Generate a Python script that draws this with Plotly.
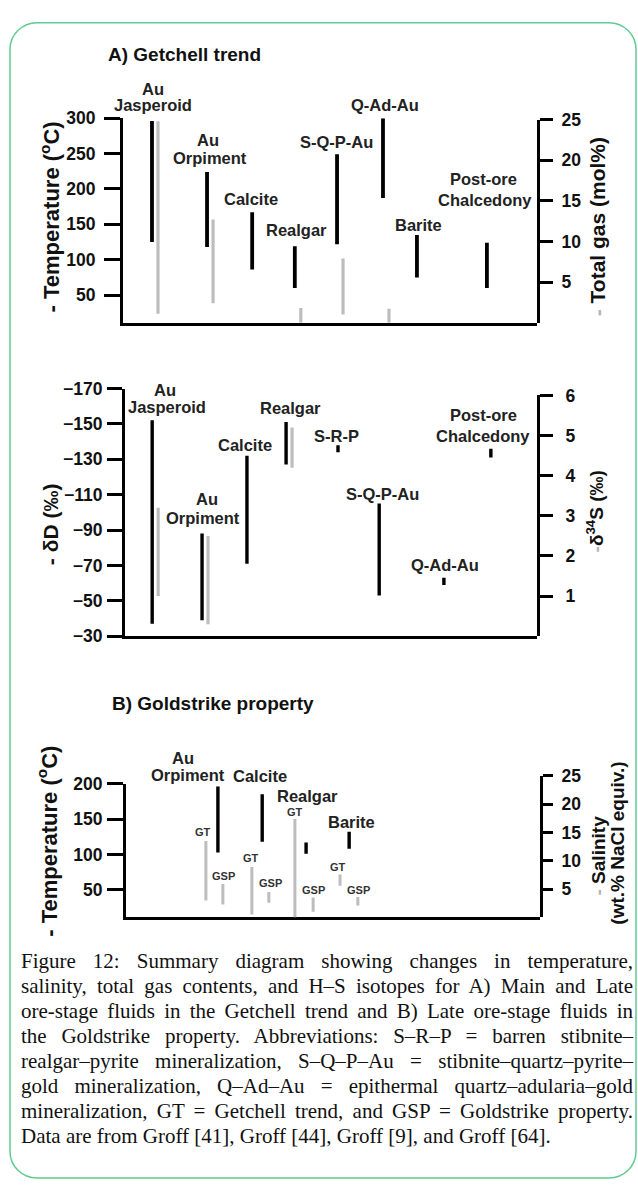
import plotly.graph_objects as go

W, H = 638, 1185

# ---------------- A) Getchell trend: temperature and total gas ----------------
a_stages = ["Au Jasperoid", "Au Orpiment", "Calcite", "Realgar",
            "S-Q-P-Au", "Q-Ad-Au", "Barite", "Post-ore Chalcedony"]
a_temp_lo = [125, 118, 86, 60, 122, 187, 75, 60]
a_temp_hi = [296, 224, 167, 119, 249, 300, 135, 124]
a_gas_stages = ["Au Jasperoid", "Au Orpiment", "Realgar", "S-Q-P-Au", "Q-Ad-Au"]
a_gas_lo = [1.1, 2.4, 0.0, 1.0, 0.0]
a_gas_hi = [24.8, 12.7, 1.8, 7.9, 1.7]
a_temp_ticks = [50, 100, 150, 200, 250, 300]
a_gas_ticks = [5, 10, 15, 20, 25]

# ---------------- A) Getchell trend: H and S isotopes ----------------
b_stages = ["Au Jasperoid", "Au Orpiment", "Calcite", "Realgar",
            "S-R-P", "S-Q-P-Au", "Q-Ad-Au", "Post-ore Chalcedony"]
b_dD_lo = [-152, -88, -132, -151, -138, -105, -63, -136]
b_dD_hi = [-37, -39, -71, -127, -134, -53, -59, -131]
b_s34_stages = ["Au Jasperoid", "Au Orpiment", "Realgar"]
b_s34_lo = [1.0, 0.3, 4.2]
b_s34_hi = [3.2, 2.5, 5.2]
b_dD_ticks = [-170, -150, -130, -110, -90, -70, -50, -30]
b_s34_ticks = [1, 2, 3, 4, 5, 6]

# ---------------- B) Goldstrike property ----------------
c_stages = ["Au Orpiment", "Calcite", "Realgar", "Barite"]
c_temp_lo = [103, 118, 101, 108]
c_temp_hi = [196, 185, 117, 132]
c_sal_gt_lo = [3.0, 0.5, 0.0, 5.6]
c_sal_gt_hi = [13.5, 8.9, 17.4, 7.6]
c_sal_gsp_lo = [2.3, 2.6, 1.0, 2.1]
c_sal_gsp_hi = [5.9, 4.5, 3.5, 3.6]
c_temp_ticks = [50, 100, 150, 200]
c_sal_ticks = [5, 10, 15, 20, 25]

caption_lines = [
    "Figure 12: Summary diagram showing changes in temperature,",
    "salinity, total gas contents, and H\u2013S isotopes for A) Main and Late",
    "ore-stage fluids in the Getchell trend and B) Late ore-stage fluids in",
    "the Goldstrike property. Abbreviations: S\u2013R\u2013P = barren stibnite\u2013",
    "realgar\u2013pyrite mineralization, S\u2013Q\u2013P\u2013Au = stibnite\u2013quartz\u2013pyrite\u2013",
    "gold mineralization, Q\u2013Ad\u2013Au = epithermal quartz\u2013adularia\u2013gold",
    "mineralization, GT = Getchell trend, and GSP = Goldstrike property.",
    "Data are from Groff [41], Groff [44], Groff [9], and Groff [64].",
]

# ---------------- layout constants ----------------
SANS = "Liberation Sans, Arial, sans-serif"
SERIF = "Liberation Serif, Times New Roman, serif"
BLACK = "#000000"
GRAY = "#bdbdbd"
TXT = "#222222"

# horizontal slot of each stage inside its panel (fraction of axis width)
A_POS = {"Au Jasperoid": 0.070, "Au Orpiment": 0.203, "Calcite": 0.312,
         "Realgar": 0.415, "S-Q-P-Au": 0.517, "Q-Ad-Au": 0.628,
         "Barite": 0.710, "Post-ore Chalcedony": 0.879}
B_POS = {"Au Jasperoid": 0.066, "Au Orpiment": 0.187, "Calcite": 0.296,
         "Realgar": 0.391, "S-R-P": 0.517, "S-Q-P-Au": 0.617,
         "Q-Ad-Au": 0.774, "Post-ore Chalcedony": 0.888}
C_POS = {"Au Orpiment": 0.222, "Calcite": 0.329, "Realgar": 0.435, "Barite": 0.539}
C_GT_POS = [0.193, 0.304, 0.408, 0.517]
C_GSP_POS = [0.234, 0.345, 0.452, 0.560]
PAIR_OFFSET = 0.0145


def px(x):
    return x / W


def py(y):
    return 1 - y / H


def segments(xs, lo, hi):
    X, Y = [], []
    for x, a, b in zip(xs, lo, hi):
        X += [x, x, None]
        Y += [a, b, None]
    return X, Y


fig = go.Figure()


def add_bars(xs, lo, hi, color, width, xa, ya):
    X, Y = segments(xs, lo, hi)
    fig.add_trace(go.Scatter(x=X, y=Y, mode="lines", xaxis=xa, yaxis=ya,
                             line=dict(color=color, width=width),
                             hoverinfo="skip", showlegend=False))


# panel A, temperature (black) and gas (gray)
add_bars([A_POS[s] for s in a_stages], a_temp_lo, a_temp_hi, BLACK, 3.8, "x", "y")
add_bars([A_POS[s] + PAIR_OFFSET for s in a_gas_stages], a_gas_lo, a_gas_hi, GRAY, 3.2, "x2", "y2")
# panel A, dD (black) and d34S (gray)
add_bars([B_POS[s] for s in b_stages], b_dD_lo, b_dD_hi, BLACK, 3.4, "x3", "y3")
add_bars([B_POS[s] + PAIR_OFFSET for s in b_s34_stages], b_s34_lo, b_s34_hi, GRAY, 3.2, "x4", "y4")
# panel B, temperature (black) and salinity (gray)
add_bars([C_POS[s] for s in c_stages], c_temp_lo, c_temp_hi, BLACK, 3.4, "x5", "y5")
add_bars(C_GT_POS, c_sal_gt_lo, c_sal_gt_hi, GRAY, 3.0, "x6", "y6")
add_bars(C_GSP_POS, c_sal_gsp_lo, c_sal_gsp_hi, GRAY, 3.0, "x6", "y6")

tickfont = dict(family=SANS, size=17.5, color="#111111", weight="bold")


def xaxis_cfg(x0, x1, anchor, visible=True):
    d = dict(domain=[px(x0), px(x1)], range=[0, 1], anchor=anchor,
             showgrid=False, zeroline=False, showticklabels=False, ticks="",
             fixedrange=True)
    if visible:
        d.update(showline=True, linewidth=3, linecolor=BLACK)
    else:
        d.update(visible=False)
    return d


def yaxis_cfg(y_bottom, y_top, rng, ticks, anchor, side, ticklen, standoff):
    return dict(domain=[py(y_bottom), py(y_top)], range=list(rng),
                anchor=anchor, side=side, showgrid=False, zeroline=False,
                showline=True, linewidth=3, linecolor=BLACK,
                ticks="outside", ticklen=ticklen, tickwidth=3, tickcolor=BLACK,
                tickvals=ticks, ticktext=[("\u2212" + str(-t)) if t < 0 else str(t) for t in ticks],
                tickfont=tickfont, ticklabelstandoff=standoff, fixedrange=True)


layout = dict(
    width=W, height=H, margin=dict(l=0, r=0, t=0, b=0),
    paper_bgcolor="white", plot_bgcolor="rgba(0,0,0,0)", showlegend=False,
    xaxis=xaxis_cfg(123, 537, "y"),
    xaxis2=xaxis_cfg(123, 537, "y2", visible=False),
    yaxis=yaxis_cfg(318, 110, (11.1, 300), a_temp_ticks, "x", "left", 16, 5),
    yaxis2=yaxis_cfg(318, 111.5, (0, 25), a_gas_ticks, "x2", "right", 13, 5),
    xaxis3=xaxis_cfg(125, 537, "y3"),
    xaxis4=xaxis_cfg(125, 537, "y4", visible=False),
    # the dD axis runs from -30 at the bottom to -170 at the top
    yaxis3=yaxis_cfg(637, 385, (-30, -170), b_dD_ticks, "x3", "left", 15, 1),
    yaxis4=yaxis_cfg(637, 392, (0, 6), b_s34_ticks, "x4", "right", 13, 9),
    xaxis5=xaxis_cfg(126, 540, "y5"),
    xaxis6=xaxis_cfg(126, 540, "y6", visible=False),
    yaxis5=yaxis_cfg(923, 787, (11.1, 200), c_temp_ticks, "x5", "left", 16, 1),
    yaxis6=yaxis_cfg(923, 779, (0, 25), c_sal_ticks, "x6", "right", 10, 5),
)

annotations = []


def text(t, cx, cy, size=16.5, color=TXT, family=SANS, weight="bold", angle=0,
         xanchor="center"):
    annotations.append(dict(text=t, x=px(cx), y=py(cy), xref="paper", yref="paper",
                            showarrow=False, xanchor=xanchor, yanchor="middle",
                            textangle=angle,
                            font=dict(family=family, size=size, color=color, weight=weight)))


# panel titles
text("A) Getchell trend", 106, 45, size=19, color="#111111", xanchor="left")
text("B) Goldstrike property", 110, 705, size=19, color="#111111", xanchor="left")

# stage labels, panel A temperature
for t, cx, cy in [("Au", 153, 80), ("Jasperoid", 153, 97), ("Au", 208, 132),
                  ("Orpiment", 210, 151), ("Calcite", 251, 192), ("Realgar", 296, 224),
                  ("S-Q-P-Au", 336, 134), ("Q-Ad-Au", 385, 97), ("Barite", 418, 219),
                  ("Post-ore", 483, 172), ("Chalcedony", 485, 193)]:
    text(t, cx, cy)

# stage labels, isotopes
for t, cx, cy in [("Au", 165, 387), ("Jasperoid", 167, 404), ("Realgar", 290, 405),
                  ("Calcite", 245, 442), ("S-R-P", 336, 433), ("Au", 207, 497),
                  ("Orpiment", 203, 517), ("S-Q-P-Au", 382, 492), ("Q-Ad-Au", 445, 565),
                  ("Post-ore", 483, 412), ("Chalcedony", 483, 433)]:
    text(t, cx, cy)

# stage labels, Goldstrike
for t, cx, cy in [("Au", 183, 761), ("Orpiment", 188, 778), ("Calcite", 260, 779),
                  ("Realgar", 307, 800), ("Barite", 351, 826)]:
    text(t, cx, cy)
for t, cx, cy in [("GT", 203, 836), ("GT", 251, 863), ("GT", 295, 816), ("GT", 338, 872),
                  ("GSP", 223, 881), ("GSP", 270, 888), ("GSP", 313, 895), ("GSP", 358, 895)]:
    text(t, cx, cy, size=11, color="#333333")

# axis titles
DASH_GRAY = "<span style='color:#b5b5b5'>-</span>"
text("- Temperature (<sup>o</sup>C)", 50, 211, size=22, color="#111111", angle=-90)
text(DASH_GRAY + " Total gas (mol%)", 597, 221, size=21, color="#111111", angle=-90)
text("- \u03b4D (\u2030)", 50, 523, size=21, color="#111111", angle=-90)
text(DASH_GRAY + "\u03b4<sup>34</sup>S (\u2030)", 595, 510, size=19, color="#111111", angle=-90)
text("- Temperature (<sup>o</sup>C)", 47, 846, size=22, color="#111111", angle=-90)
text(DASH_GRAY + " Salinity", 598, 860, size=19, color="#111111", angle=-90)
text("(wt.% NaCl equiv.)", 618, 848, size=19, color="#111111", angle=-90)

# caption
justify_ids = []
for i, line in enumerate(caption_lines):
    if i < len(caption_lines) - 1:
        justify_ids.append(len(annotations))
    annotations.append(dict(text=line, x=px(19), y=py(967 + i * 25.45), xref="paper",
                            yref="paper", showarrow=False, xanchor="left", yanchor="middle",
                            align="left",
                            font=dict(family=SERIF, size=21, color="#111111")))

layout["annotations"] = annotations


# green rounded frame around the figure
def frame_path(x0, y0, x1, y1, r):
    k = 0.5523 * r
    pts = []
    pts.append("M %f,%f" % (px(x0), py(y0 + r)))
    pts.append("C %f,%f %f,%f %f,%f" % (px(x0), py(y0 + r - k), px(x0 + r - k), py(y0), px(x0 + r), py(y0)))
    pts.append("L %f,%f" % (px(x1 - r), py(y0)))
    pts.append("C %f,%f %f,%f %f,%f" % (px(x1 - r + k), py(y0), px(x1), py(y0 + r - k), px(x1), py(y0 + r)))
    pts.append("L %f,%f" % (px(x1), py(y1 - r)))
    pts.append("C %f,%f %f,%f %f,%f" % (px(x1), py(y1 - r + k), px(x1 - r + k), py(y1), px(x1 - r), py(y1)))
    pts.append("L %f,%f" % (px(x0 + r), py(y1)))
    pts.append("C %f,%f %f,%f %f,%f" % (px(x0 + r - k), py(y1), px(x0), py(y1 - r + k), px(x0), py(y1 - r)))
    pts.append("Z")
    return " ".join(pts)


layout["shapes"] = [dict(type="path", xref="paper", yref="paper",
                         path=frame_path(10, 13, 636, 1188, 27),
                         line=dict(color="#5fcc90", width=1.5), layer="below")]

fig.update_layout(**layout)

# stretch the caption's inter-word spacing so each full line spans the text block
justify_js = """
var gd = document.getElementById('{plot_id}');
var ids = %s;
var target = %f;
ids.forEach(function(i) {
  var t = gd.querySelector('g.annotation[data-index="' + i + '"] text.annotation-text');
  if (!t) return;
  var gaps = t.textContent.split(' ').length - 1;
  if (gaps < 1) return;
  var b0 = t.getBBox();
  var w = t.getComputedTextLength();
  t.style.wordSpacing = ((target - w) / gaps) + 'px';
  var b1 = t.getBBox();
  var prev = t.getAttribute('transform') || '';
  t.setAttribute('transform', prev + ' translate(' + (b0.x - b1.x) + ',0)');
});
""" % (str(justify_ids), 612.0)

fig.write_html("out.html", post_script=justify_js)
